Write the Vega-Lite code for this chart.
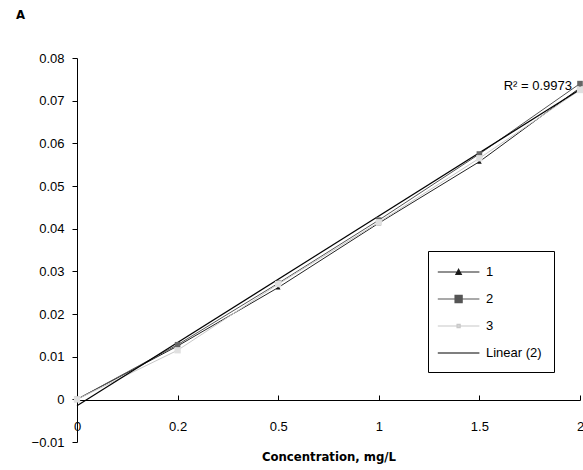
{
  "$schema": "https://vega.github.io/schema/vega-lite/v6.json",
  "width": 503,
  "height": 384,
  "autosize": "none",
  "padding": {"left": 77, "top": 58, "right": 3, "bottom": 28},
  "background": "white",
  "config": {
    "view": {"stroke": null},
    "font": "Liberation Sans",
    "axis": {"grid": false, "domainColor": "#000", "tickColor": "#000", "labelColor": "#000", "labelFont": "Liberation Sans", "labelFontSize": 13, "titleColor": "#000"}
  },
  "title": {"text": "A", "anchor": "start", "dx": -15, "offset": 30, "fontSize": 13, "fontWeight": "bold", "font": "DejaVu Sans Condensed, Liberation Sans", "color": "#000"},
  "datasets": {
    "pts": [
      {"conc": "0", "series": "1", "abs": 0},
      {"conc": "0.2", "series": "1", "abs": 0.0125},
      {"conc": "0.5", "series": "1", "abs": 0.0262},
      {"conc": "1", "series": "1", "abs": 0.0413},
      {"conc": "1.5", "series": "1", "abs": 0.0557},
      {"conc": "2", "series": "1", "abs": 0.073},
      {"conc": "0", "series": "2", "abs": 0},
      {"conc": "0.2", "series": "2", "abs": 0.0128},
      {"conc": "0.5", "series": "2", "abs": 0.0272},
      {"conc": "1", "series": "2", "abs": 0.042},
      {"conc": "1.5", "series": "2", "abs": 0.0575},
      {"conc": "2", "series": "2", "abs": 0.074},
      {"conc": "0", "series": "3", "abs": 0},
      {"conc": "0.2", "series": "3", "abs": 0.0115},
      {"conc": "0.5", "series": "3", "abs": 0.027},
      {"conc": "1", "series": "3", "abs": 0.0415},
      {"conc": "1.5", "series": "3", "abs": 0.0565},
      {"conc": "2", "series": "3", "abs": 0.0725}
    ],
    "trend": [
      {"conc": "0", "series": "Linear (2)", "abs": -0.0015},
      {"conc": "2", "series": "Linear (2)", "abs": 0.0726}
    ],
    "label": [
      {"conc": "2", "abs": 0.0735, "text": "R² = 0.9973"}
    ]
  },
  "encoding": {
    "x": {
      "field": "conc", "type": "ordinal",
      "sort": ["0", "0.2", "0.5", "1", "1.5", "2"],
      "scale": {"type": "point", "domain": ["0", "0.2", "0.5", "1", "1.5", "2"], "padding": 0},
      "axis": {"title": "Concentration, mg/L", "labelAngle": 0, "offset": -42, "tickSize": -5, "labelPadding": 25, "titleFont": "DejaVu Sans Condensed, Liberation Sans", "titleFontSize": 13, "titleFontWeight": "bold", "titlePadding": 17}
    },
    "y": {
      "field": "abs", "type": "quantitative",
      "scale": {"domain": [-0.01, 0.08], "nice": false, "zero": false},
      "axis": {"title": null, "values": [-0.01, 0, 0.01, 0.02, 0.03, 0.04, 0.05, 0.06, 0.07, 0.08], "labelExpr": "datum.value == 0 ? '0' : format(datum.value, '.2f')", "tickSize": 5, "labelPadding": 8}
    }
  },
  "layer": [
    {
      "data": {"name": "pts"},
      "mark": {"type": "line", "strokeWidth": 1},
      "encoding": {
        "color": {
          "field": "series", "type": "nominal",
          "scale": {"domain": ["1", "2", "3", "Linear (2)"], "range": ["#222222", "#555555", "#c8c8c8", "#000000"]},
          "legend": {
            "orient": "none", "legendX": 351, "legendY": 193,
            "title": null,
            "strokeColor": "#000", "fillColor": "#fff",
            "padding": 12,
            "symbolSize": 256,
            "symbolStrokeWidth": 1,
            "labelFontSize": 13,
            "labelFont": "Liberation Sans",
            "labelColor": "#000",
            "labelOffset": 28,
            "rowPadding": 11,
            "encode": {
              "symbols": {
                "update": {
                  "shape": {"signal": "datum.value === '1' ? 'M-1.4,0H3.8M1.2,-0.35L1.55,0.3H0.85Z' : datum.value === '2' ? 'M-1.4,0H3.8M0.75,-0.45H1.65V0.45H0.75Z' : datum.value === '3' ? 'M-1.4,0H3.8M1,-0.2H1.4V0.2H1Z' : 'M-1.4,0H3.8'"},
                  "fill": {"signal": "datum.value === '1' ? '#111' : datum.value === '2' ? '#555' : datum.value === '3' ? '#e0e0e0' : 'transparent'"},
                  "stroke": {"signal": "datum.value === '1' ? '#333' : datum.value === '2' ? '#555' : datum.value === '3' ? '#d0d0d0' : '#000'"},
                  "strokeWidth": {"value": 1.1},
                  "opacity": {"value": 1}
                }
              }
            }
          }
        }
      }
    },
    {
      "data": {"name": "trend"},
      "mark": {"type": "line", "strokeWidth": 1.2},
      "encoding": {
        "color": {"field": "series", "type": "nominal"}
      }
    },
    {
      "data": {"name": "pts"},
      "mark": {"type": "point", "filled": true, "opacity": 1},
      "encoding": {
        "shape": {"field": "series", "type": "nominal", "scale": {"domain": ["1", "2", "3"], "range": ["triangle-up", "square", "square"]}, "legend": null},
        "size": {"field": "series", "type": "nominal", "scale": {"domain": ["1", "2", "3"], "range": [22, 40, 18]}, "legend": null},
        "fill": {"field": "series", "type": "nominal", "scale": {"domain": ["1", "2", "3"], "range": ["#111111", "#666666", "#e0e0e0"]}, "legend": null}
      }
    },
    {
      "data": {"name": "label"},
      "mark": {"type": "text", "align": "right", "baseline": "middle", "dx": -8, "fontSize": 13, "font": "Liberation Sans", "color": "#000"},
      "encoding": {"text": {"field": "text"}}
    }
  ]
}
